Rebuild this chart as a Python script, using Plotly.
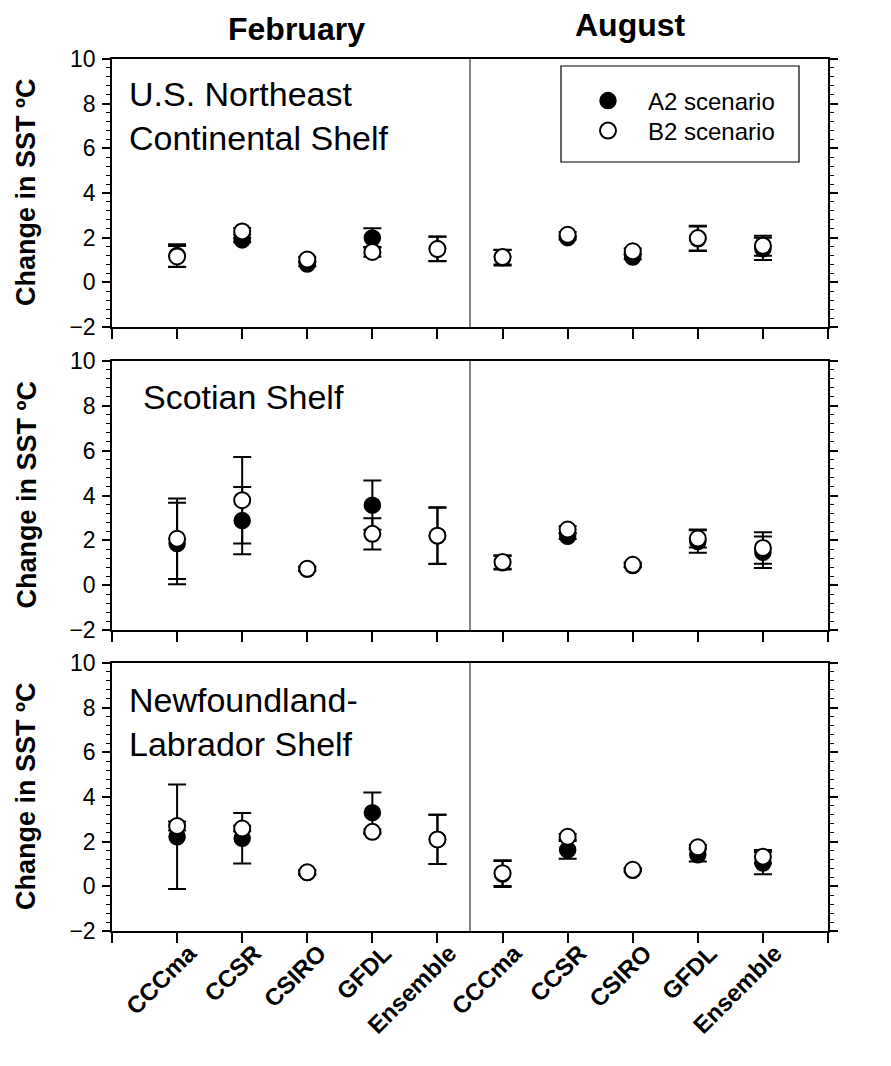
import plotly.graph_objects as go

# ---------------- data ----------------
models = ["CCCma", "CCSR", "CSIRO", "GFDL", "Ensemble"]
months = ["February", "August"]
panels = ["U.S. Northeast<br>Continental Shelf", "Scotian Shelf", "Newfoundland-<br>Labrador Shelf"]

# U.S. Northeast Continental Shelf
ne_feb_a2 = [1.20, 1.90, 0.82, 1.99, 1.50]
ne_feb_a2_err = [0.50, 0.10, 0.10, 0.43, 0.55]
ne_feb_b2 = [1.16, 2.28, 1.02, 1.36, 1.49]
ne_feb_b2_err = [0.47, 0.15, 0.12, 0.22, 0.55]
ne_aug_a2 = [1.10, 2.00, 1.13, 1.95, 1.50]
ne_aug_a2_err = [0.35, 0.08, 0.10, 0.55, 0.50]
ne_aug_b2 = [1.13, 2.13, 1.39, 1.98, 1.64]
ne_aug_b2_err = [0.33, 0.12, 0.12, 0.55, 0.45]

# Scotian Shelf
ss_feb_a2 = [1.86, 2.88, 0.72, 3.57, 2.20]
ss_feb_a2_err = [1.82, 1.50, 0.08, 1.10, 1.25]
ss_feb_b2 = [2.07, 3.79, 0.73, 2.29, 2.21]
ss_feb_b2_err = [1.80, 1.93, 0.10, 0.70, 1.27]
ss_aug_a2 = [1.00, 2.18, 0.88, 1.95, 1.47]
ss_aug_a2_err = [0.30, 0.12, 0.08, 0.50, 0.70]
ss_aug_b2 = [1.03, 2.48, 0.91, 2.08, 1.66]
ss_aug_b2_err = [0.30, 0.15, 0.10, 0.40, 0.70]

# Newfoundland-Labrador Shelf
nl_feb_a2 = [2.22, 2.15, 0.62, 3.30, 2.10]
nl_feb_a2_err = [2.34, 1.13, 0.08, 0.90, 1.10]
nl_feb_b2 = [2.70, 2.59, 0.63, 2.44, 2.10]
nl_feb_b2_err = [0.20, 0.12, 0.10, 0.10, 1.10]
nl_aug_a2 = [0.55, 1.63, 0.72, 1.41, 1.04]
nl_aug_a2_err = [0.58, 0.40, 0.06, 0.30, 0.50]
nl_aug_b2 = [0.59, 2.22, 0.74, 1.75, 1.33]
nl_aug_b2_err = [0.58, 0.12, 0.08, 0.10, 0.30]

y_ticks = [-2, 0, 2, 4, 6, 8, 10]

# ---------------- layout geometry ----------------
W, H = 891, 1066
L, R, T, B = 112, 63, 59, 135
PH = H - T - B
panel_px = [(59, 327), (361, 630), (663, 931)]  # top, bottom pixel of each panel


def py(p):
    return (H - B - p) / PH


def px(p):
    return (p - L) / (W - L - R)


FONT = "Liberation Sans, Arial, sans-serif"
cats = models + models
xpos = list(range(1, len(cats) + 1))

panel_data = [
    (ne_feb_a2 + ne_aug_a2, ne_feb_a2_err + ne_aug_a2_err, ne_feb_b2 + ne_aug_b2, ne_feb_b2_err + ne_aug_b2_err),
    (ss_feb_a2 + ss_aug_a2, ss_feb_a2_err + ss_aug_a2_err, ss_feb_b2 + ss_aug_b2, ss_feb_b2_err + ss_aug_b2_err),
    (nl_feb_a2 + nl_aug_a2, nl_feb_a2_err + nl_aug_a2_err, nl_feb_b2 + nl_aug_b2, nl_feb_b2_err + nl_aug_b2_err),
]

fig = go.Figure()
layout = dict(
    width=W, height=H,
    margin=dict(l=L, r=R, t=T, b=B, pad=0),
    paper_bgcolor="white", plot_bgcolor="white",
    font=dict(family=FONT, color="black", size=21),
    showlegend=True,
)

shapes = []
annotations = []

for i, (a2, a2e, b2, b2e) in enumerate(panel_data):
    k = i + 1
    xa = "x" if k == 1 else f"x{k}"
    yb = 4 * (k - 1)
    ymain = "y" if yb == 0 else f"y{yb + 1}"
    top, bot = panel_px[i]
    dom = [py(bot), py(top)]

    err_style = dict(type="data", thickness=2, width=9, color="black")
    fig.add_trace(go.Scatter(
        x=xpos, y=a2, mode="markers", name="A2 scenario",
        error_y=dict(array=a2e, **err_style),
        marker=dict(symbol="circle", size=16, color="black", line=dict(color="black", width=1.5)),
        xaxis=xa, yaxis=ymain, showlegend=(i == 0), legend="legend",
    ))
    fig.add_trace(go.Scatter(
        x=xpos, y=b2, mode="markers", name="B2 scenario",
        error_y=dict(array=b2e, **err_style),
        marker=dict(symbol="circle", size=16, color="white", line=dict(color="black", width=2)),
        xaxis=xa, yaxis=ymain, showlegend=(i == 0), legend="legend2",
    ))

    xkey = "xaxis" if k == 1 else f"xaxis{k}"
    layout[xkey] = dict(
        domain=[0, 1], anchor=ymain, range=[0, 11],
        tickmode="array", tickvals=list(range(0, 12)),
        ticktext=[""] + cats + [""],
        showticklabels=(i == 2), tickangle=-45,
        tickfont=dict(size=24, family=FONT, weight="bold"),
        ticklabelshift=12, ticklabelstandoff=-13,
        ticks="outside", ticklen=10, tickwidth=1.5, tickcolor="black",
        showline=True, linewidth=1.5, linecolor="black", mirror=True,
        showgrid=False, zeroline=False,
    )
    common_y = dict(domain=dom, range=[-2, 10], tickmode="array", tickvals=y_ticks,
                    showgrid=False, zeroline=False, anchor=xa)
    minor_out = dict(ticks="outside", ticklen=4, tickwidth=1.2, tickcolor="black", dtick=0.4, tick0=-2, showgrid=False)
    minor_in = dict(ticks="inside", ticklen=4, tickwidth=1.2, tickcolor="black", dtick=0.4, tick0=-2, showgrid=False)
    mkey = "yaxis" if yb == 0 else f"yaxis{yb + 1}"
    layout[mkey] = dict(
        **common_y, side="left",
        ticks="outside", ticklen=8, tickwidth=1.5, tickcolor="black",
        minor=minor_out, mirror="ticks",
        showline=True, linewidth=1.5, linecolor="black",
        showticklabels=True, tickfont=dict(size=23, family=FONT),
        ticklabelstandoff=2,
    )
    layout[f"yaxis{yb + 2}"] = dict(
        **common_y, side="left", overlaying=ymain,
        ticks="inside", ticklen=8, tickwidth=1.5, tickcolor="black",
        minor=minor_in, mirror="ticks", showline=False, showticklabels=False,
    )
    layout[f"yaxis{yb + 3}"] = dict(
        **common_y, side="right", overlaying=ymain,
        ticks="outside", ticklen=8, tickwidth=1.5, tickcolor="black",
        showline=False, showticklabels=True, tickfont=dict(size=23, family=FONT),
        ticklabelstandoff=6,
    )

    # month divider
    shapes.append(dict(type="line", xref=xa, yref=f"{ymain} domain", x0=5.5, x1=5.5, y0=0, y1=1,
                       line=dict(color="#333333", width=1.2)))

    # y title
    annotations.append(dict(text="<b>Change in SST ºC</b>", xref="paper", yref="paper",
                            x=px(26), y=(dom[0] + dom[1]) / 2, textangle=-90, showarrow=False,
                            xanchor="center", yanchor="middle",
                            font=dict(size=27, family=FONT)))

# panel labels
annotations.append(dict(text=panels[0], xref="paper", yref="paper", x=px(127), y=py(73),
                        xanchor="left", yanchor="top", align="left", showarrow=False,
                        font=dict(size=34, family=FONT)))
annotations.append(dict(text=panels[1], xref="paper", yref="paper", x=px(141), y=py(376),
                        xanchor="left", yanchor="top", align="left", showarrow=False,
                        font=dict(size=34, family=FONT)))
annotations.append(dict(text=panels[2], xref="paper", yref="paper", x=px(127), y=py(679),
                        xanchor="left", yanchor="top", align="left", showarrow=False,
                        font=dict(size=34, family=FONT)))

# month titles
annotations.append(dict(text="<b>" + months[0] + "</b>", xref="paper", yref="paper", x=px(296), y=py(29),
                        xanchor="center", yanchor="middle",
                        showarrow=False, font=dict(size=32, family=FONT)))
annotations.append(dict(text="<b>" + months[1] + "</b>", xref="paper", yref="paper", x=px(630), y=py(25),
                        xanchor="center", yanchor="middle",
                        showarrow=False, font=dict(size=32, family=FONT)))

# legend frame
shapes.append(dict(type="rect", xref="paper", yref="paper", x0=px(561), x1=px(799), y0=py(162), y1=py(66),
                   line=dict(color="black", width=1.2), fillcolor="white", layer="below"))

layout["shapes"] = shapes
layout["annotations"] = annotations
leg_common = dict(xanchor="left", yanchor="middle", bgcolor="rgba(0,0,0,0)", borderwidth=0,
                  font=dict(size=24, family=FONT), itemwidth=70)
layout["legend"] = dict(x=px(568), y=py(101), **leg_common)
layout["legend2"] = dict(x=px(568), y=py(131), **leg_common)

fig.update_layout(**layout)
fig.write_html("out.html")
